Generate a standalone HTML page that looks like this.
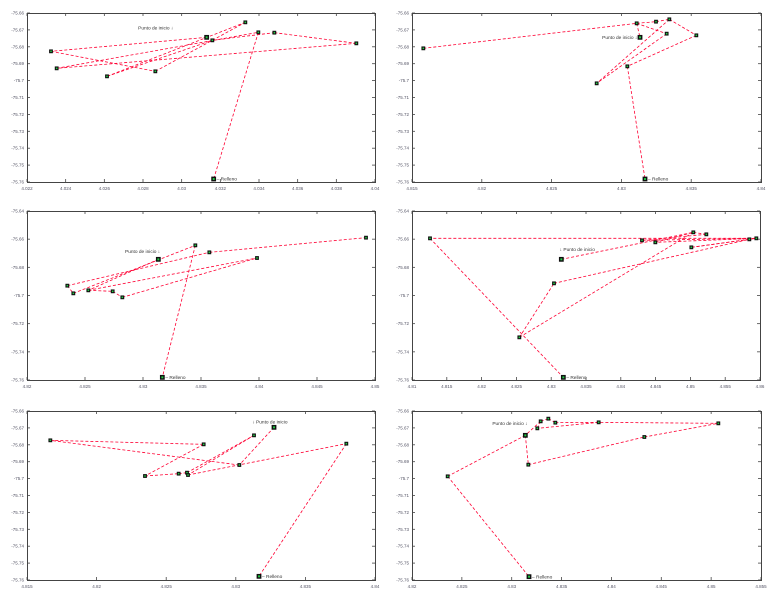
<!DOCTYPE html>
<html><head><meta charset="utf-8"><style>
html,body{margin:0;padding:0;background:#fff;width:770px;height:598px;overflow:hidden}
svg{display:block}
text{font-family:"Liberation Sans",sans-serif}
</style></head><body>
<svg id="s" width="770" height="598" xmlns="http://www.w3.org/2000/svg"></svg>
<script>
var S=document.getElementById('s'),out='';
function fx(v){return (+v.toFixed(3)).toString();}
var panels=[
{ox:0,oy:0,L:27,R:375,T:13,B:182,xt:[4.022,4.024,4.026,4.028,4.03,4.032,4.034,4.036,4.038,4.04],yt:['-75.66','-75.67','-75.68','-75.69','-75.7','-75.71','-75.72','-75.73','-75.74','-75.75','-75.76'],
 pts:{A:[153,154],B:[170,205],C:[321,229],D:[466,214],E:[620,112],F:[637,121],G:[736,67],H:[775,97],I:[823,98],J:[1069,130],K:[641,537]},
 segs:['EA','AD','DG','GC','CF','FI','IJ','JB','BH','HK'],start:'E',startLbl:[520,84,'Punto de inicio \u2193','end'],end:'K'},
{ox:385,oy:0,L:27,R:376,T:13,B:182,xt:[4.815,4.82,4.825,4.83,4.835,4.84],yt:['-75.66','-75.67','-75.68','-75.69','-75.7','-75.71','-75.72','-75.73','-75.74','-75.75','-75.76'],
 pts:{A:[115,145],B:[635,250],C:[727,199],D:[755,70],E:[765,112],F:[813,65],G:[845,101],H:[853,58],I:[934,106],J:[780,537]},
 segs:['AD','DE','DG','DF','FH','HB','GB','HI','IC','CJ'],start:'E',startLbl:[757,112,'Punto de inicio \u2193','end'],end:'J'},
{ox:0,oy:200,L:27,R:375,T:11,B:180,xt:[4.82,4.825,4.83,4.835,4.84,4.845,4.85],yt:['-75.64','-75.66','-75.68','-75.7','-75.72','-75.74','-75.76'],
 pts:{A:[202,257],B:[220,280],C:[265,271],D:[338,274],E:[367,292],F:[475,178],G:[586,136],H:[628,157],I:[771,174],J:[1098,113],K:[487,532]},
 segs:['FC','AH','HJ','AB','BG','GK','CI','CD','DE','EI'],start:'F',startLbl:[375,155,'Punto de inicio \u2193','start'],end:'K'},
{ox:385,oy:200,L:27,R:375,T:11,B:180,xt:[4.81,4.815,4.82,4.825,4.83,4.835,4.84,4.845,4.85,4.855,4.86],yt:['-75.64','-75.66','-75.68','-75.7','-75.72','-75.74','-75.76'],
 pts:{A:[135,115],B:[403,412],C:[507,250],D:[529,178],E:[771,121],F:[811,127],G:[919,142],H:[925,97],I:[964,103],J:[1093,118],K:[1114,115],L:[535,532]},
 segs:['DH','HI','IE','EK','KF','FH','HB','BC','CJ','JG','GK','KA','AL'],start:'D',startLbl:[524,148,'\u2193 Punto de inicio','start'],end:'L'},
{ox:0,oy:398,L:27,R:375,T:13,B:182,xt:[4.815,4.82,4.825,4.83,4.835,4.84],yt:['-75.66','-75.67','-75.68','-75.69','-75.7','-75.71','-75.72','-75.73','-75.74','-75.75','-75.76'],
 pts:{A:[151,127],B:[435,234],C:[536,227],D:[561,224],E:[564,231],F:[611,139],G:[718,201],H:[762,112],I:[822,88],J:[1039,137],K:[777,535]},
 segs:['IG','GA','AF','FB','BC','CD','DH','HE','EJ','JK'],start:'I',startLbl:[757,72,'\u2193 Punto de inicio','start'],end:'K'},
{ox:385,oy:398,L:27,R:376,T:13,B:182,xt:[4.82,4.825,4.83,4.835,4.84,4.845,4.85,4.855],yt:['-75.66','-75.67','-75.68','-75.69','-75.7','-75.71','-75.72','-75.73','-75.74','-75.75','-75.76'],
 pts:{A:[188,235],B:[421,112],C:[430,200],D:[457,91],E:[467,70],F:[490,62],G:[511,74],H:[641,73],I:[778,117],J:[1000,76],K:[432,536]},
 segs:['BC','CI','IJ','JH','HD','DE','EF','FG','GH','EB','BA','AK'],start:'B',startLbl:[322,77,'Punto de inicio \u2193','start'],end:'K'}
];
panels.forEach(function(p){
 var ox=p.ox,oy=p.oy,L=ox+p.L,R=ox+p.R,T=oy+p.T,B=oy+p.B;
 function P(k){var q=p.pts[k];return [ox+q[0]/3,oy+q[1]/3];}
 out+='<rect x="'+L+'.5" y="'+T+'.5" width="'+(R-L)+'" height="'+(B-T)+'" fill="none" stroke="#444" stroke-width="1"/>';
 var n=p.xt.length-1;
 p.xt.forEach(function(v,i){var x=L+(R-L)*i/n;
  out+='<line x1="'+x+'" y1="'+B+'" x2="'+x+'" y2="'+(B-3)+'" stroke="#444" stroke-width="0.8"/><line x1="'+x+'" y1="'+T+'" x2="'+x+'" y2="'+(T+3)+'" stroke="#444" stroke-width="0.8"/>';
  out+='<text x="'+x+'" y="'+(B+8)+'" font-size="4.5" fill="#556" text-anchor="middle">'+fx(v)+'</text>';});
 var m=p.yt.length-1;
 p.yt.forEach(function(v,i){var y=T+(B-T)*i/m;
  out+='<line x1="'+L+'" y1="'+y+'" x2="'+(L+3)+'" y2="'+y+'" stroke="#444" stroke-width="0.8"/><line x1="'+R+'" y1="'+y+'" x2="'+(R-3)+'" y2="'+y+'" stroke="#444" stroke-width="0.8"/>';
  out+='<text x="'+(L-3)+'" y="'+(y+1.5)+'" font-size="4.5" fill="#556" text-anchor="end">'+v+'</text>';});
 p.segs.forEach(function(s){var a=P(s[0]),b=P(s[1]);
  out+='<line x1="'+a[0]+'" y1="'+a[1]+'" x2="'+b[0]+'" y2="'+b[1]+'" stroke="#f03" stroke-width="0.8" stroke-dasharray="3,2"/>';});
 Object.keys(p.pts).forEach(function(k){var a=P(k),big=(k==p.start||k==p.end)?1:0;var h=big?2.4:1.9;
  out+='<rect x="'+(a[0]-h)+'" y="'+(a[1]-h)+'" width="'+(2*h)+'" height="'+(2*h)+'" fill="#111"/><rect x="'+(a[0]-h/2.5)+'" y="'+(a[1]-h/2.5)+'" width="'+(h/1.25)+'" height="'+(h/1.25)+'" fill="#2c4"/>';});
 var sl=p.startLbl;
 out+='<text x="'+(ox+sl[0]/3)+'" y="'+(oy+sl[1]/3+1.5)+'" font-size="4.8" fill="#333" text-anchor="'+sl[3]+'">'+sl[2]+'</text>';
 var e=P(p.end);
 out+='<text x="'+(e[0]+3)+'" y="'+(e[1]+1.7)+'" font-size="4.8" fill="#333">\u2013 Relleno</text>';
});
S.innerHTML=out;
</script>
</body></html>
